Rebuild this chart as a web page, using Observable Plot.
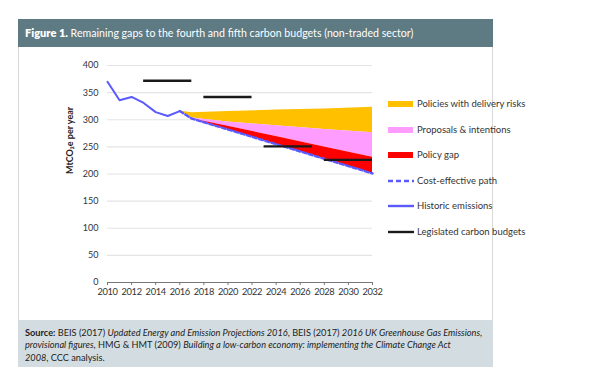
<!DOCTYPE html>
<html>
<head>
<meta charset="utf-8">
<script src="https://cdn.jsdelivr.net/npm/d3@7"></script>
<script src="https://cdn.jsdelivr.net/npm/@observablehq/plot@0.6"></script>
<style>
  html, body { margin: 0; padding: 0; background: #fff; }
  body { width: 600px; height: 367px; position: relative; overflow: hidden; font-family: Lato, sans-serif; color: #333; }
  #header { position: absolute; left: 18px; top: 19px; width: 475px; height: 28px; background: #5e7a83; color: #fff; line-height: 28px; box-sizing: border-box; padding-left: 7px; font-family: Lato, sans-serif; font-size: 10.6px; white-space: nowrap; }
  #header b { font-weight: 800; font-size: 11px; }
  #panel { position: absolute; left: 18px; top: 47px; width: 475px; height: 273px; box-sizing: border-box; border-left: 1px solid #d8d8d8; border-right: 1px solid #d8d8d8; }
  #chart { position: absolute; left: 18px; top: 47px; }
  #chart svg g[aria-label="x-axis tick label"] text { letter-spacing: -0.35px; }
  #source { position: absolute; left: 18px; top: 320px; width: 475px; height: 47px; background: #d3dde1; box-sizing: border-box; padding: 7px 0 0 7px; font-family: Lato, sans-serif; font-size: 9.2px; line-height: 12.3px; color: #222; white-space: nowrap; }
  #source div { display: block; }
  #legend { position: absolute; left: 388px; top: 97px; font-family: Lato, sans-serif; font-size: 9.5px; color: #333; }
  .item { position: absolute; left: 0; height: 14px; white-space: nowrap; }
  .item svg { position: absolute; left: 0; top: 0; }
  .item span { position: absolute; left: 29px; top: 0; line-height: 14px; }
</style>
</head>
<body>
<div id="header"><b>Figure 1.</b> Remaining gaps to the fourth and fifth carbon budgets (non-traded sector)</div>
<div id="panel"></div>
<div id="chart"></div>
<div id="legend"></div>
<div id="source">
  <div><b>Source:</b> BEIS (2017) <i>Updated Energy and Emission Projections 2016</i>, BEIS (2017) <i>2016 UK Greenhouse Gas Emissions,</i></div>
  <div><i>provisional figures</i>, HMG &amp; HMT (2009) <i>Building a low-carbon economy: implementing the Climate Change Act</i></div>
  <div><i>2008</i>, CCC analysis.</div>
</div>
<script>
// Historic emissions
const histYears = [2010, 2011, 2012, 2013, 2014, 2015, 2016];
const histValues = [370, 336, 342, 331, 314, 307, 316];

// Projection bands
const projYears = [2016, 2017, 2020, 2024, 2028, 2032];
const costEffective = [316, 302, 282, 255, 228, 201];
const policyGapTop = [316, 302, 288, 269, 250, 231];
const proposalsTop = [316, 303, 296, 289, 282, 276];
const deliveryRiskTop = [316, 313, 315, 318, 320, 323];

// Legislated carbon budgets
const budgetStart = [2013, 2018, 2023, 2028];
const budgetEnd = [2017, 2022, 2027, 2032];
const budgetValue = [372, 342, 251, 226];

const xTicks = [2010, 2012, 2014, 2016, 2018, 2020, 2022, 2024, 2026, 2028, 2030, 2032];
const yTicks = [0, 50, 100, 150, 200, 250, 300, 350, 400];

const legendLabels = ["Policies with delivery risks", "Proposals & intentions", "Policy gap", "Cost-effective path", "Historic emissions", "Legislated carbon budgets"];

const colors = { orange: "#ffc000", pink: "#ff9cff", red: "#ff0000", blue: "#5a5aff", black: "#1a1a1a" };

const hist = histYears.map((y, i) => ({ year: y, value: histValues[i] }));
const proj = projYears.map((y, i) => ({
  year: y, ce: costEffective[i], gap: policyGapTop[i], prop: proposalsTop[i], risk: deliveryRiskTop[i]
}));
const budgets = budgetStart.map((s, i) => ({ x1: s, x2: budgetEnd[i], y: budgetValue[i] }));

const chart = Plot.plot({
  width: 475,
  height: 273,
  marginLeft: 89,
  marginRight: 121,
  marginTop: 18,
  marginBottom: 38,
  style: { fontFamily: "Lato, sans-serif", fontSize: "9px", color: "#333", background: "transparent" },
  x: { domain: [2010, 2032], ticks: xTicks, tickFormat: "d", label: null },
  y: { domain: [0, 400], ticks: yTicks, label: null },
  marks: [
    Plot.gridY(yTicks.filter(d => d > 0), { stroke: "#e4e4e4", strokeOpacity: 1, strokeWidth: 1.2 }),
    Plot.areaY(proj, { x: "year", y1: "prop", y2: "risk", fill: colors.orange }),
    Plot.areaY(proj, { x: "year", y1: "gap", y2: "prop", fill: colors.pink }),
    Plot.areaY(proj, { x: "year", y1: "ce", y2: "gap", fill: colors.red }),
    Plot.line(proj, { x: "year", y: "ce", stroke: colors.blue, strokeWidth: 2.4, strokeDasharray: "4,2.5" }),
    Plot.line(hist, { x: "year", y: "value", stroke: colors.blue, strokeWidth: 2 }),
    Plot.ruleY(budgets, { x1: "x1", x2: "x2", y: "y", stroke: colors.black, strokeWidth: 2.4 }),
    Plot.ruleY([0], { stroke: "#777", strokeWidth: 1 }),
    Plot.axisX({ ticks: xTicks, tickFormat: "d", tickSize: 3, tickPadding: 3, stroke: "#777", fontSize: 9.3, label: null }),
    Plot.axisY({ ticks: yTicks, tickSize: 0, tickPadding: 9, fontSize: 9, label: null }),
    Plot.text(["MtCO₂e per year"], { frameAnchor: "left", dx: -37, rotate: -90, fontWeight: "bold", fontSize: 9, fill: "#222" })
  ]
});
document.getElementById("chart").appendChild(chart);

// Legend
const legend = document.getElementById("legend");
const kinds = [
  { type: "rect", color: colors.orange },
  { type: "rect", color: colors.pink },
  { type: "rect", color: colors.red },
  { type: "dash", color: colors.blue },
  { type: "line", color: colors.blue },
  { type: "line", color: colors.black }
];
legendLabels.forEach((lab, i) => {
  const d = document.createElement("div");
  d.className = "item";
  d.style.top = (i * 25.6) + "px";
  const k = kinds[i];
  let sw;
  if (k.type === "rect") sw = `<svg width="26" height="14"><rect x="0" y="4" width="25" height="6" fill="${k.color}"/></svg>`;
  else if (k.type === "dash") sw = `<svg width="26" height="14"><line x1="0" x2="26" y1="7" y2="7" stroke="${k.color}" stroke-width="2.4" stroke-dasharray="5,3"/></svg>`;
  else sw = `<svg width="26" height="14"><line x1="0" x2="26" y1="7" y2="7" stroke="${k.color}" stroke-width="2.4"/></svg>`;
  d.innerHTML = sw;
  const s = document.createElement("span");
  s.textContent = lab;
  d.appendChild(s);
  legend.appendChild(d);
});
</script>
</body>
</html>
